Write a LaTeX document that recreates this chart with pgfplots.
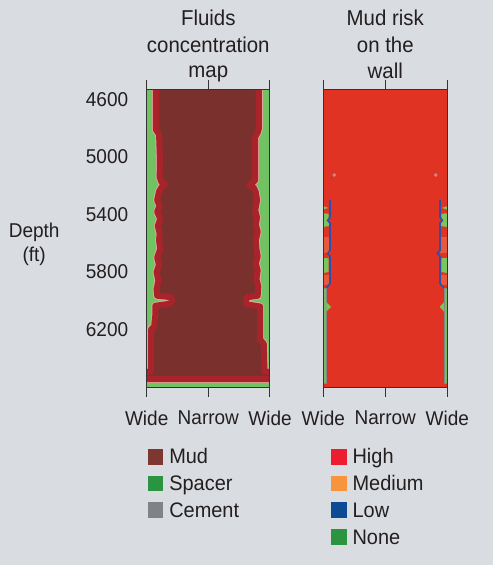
\documentclass[border=0pt]{standalone}
\usepackage{fontspec}
\setmainfont{Liberation Sans}[FakeStretch=0.95]
\usepackage{pgfplots}
\pgfplotsset{compat=1.18}

\definecolor{bgc}{HTML}{D9DCE1}
\definecolor{txt}{HTML}{231F20}
\definecolor{axcol}{HTML}{333333}
\definecolor{mud}{HTML}{7A312D}
\definecolor{mudedge}{HTML}{A9242A}
\definecolor{halo}{HTML}{DDA898}
\definecolor{mapgreen}{HTML}{70C262}
\definecolor{riskred}{HTML}{E13324}
\definecolor{riskorange}{HTML}{E8583A}
\definecolor{riskblue}{HTML}{2A4FB0}
\definecolor{riskgreen}{HTML}{7CC45C}
\definecolor{stripgray}{HTML}{7D8A86}
\definecolor{dotc}{HTML}{C98A82}
\definecolor{lgmud}{HTML}{7E3630}
\definecolor{lgspacer}{HTML}{2A9440}
\definecolor{lgcement}{HTML}{7F8386}
\definecolor{lghigh}{HTML}{ED1C2E}
\definecolor{lgmed}{HTML}{F7943C}
\definecolor{lglow}{HTML}{0D4A94}
\definecolor{lgnone}{HTML}{2A9440}

\pgfplotsset{
  panel/.style={
    scale only axis, height=297.5pt,
    xmin=-1, xmax=1, ymin=4530, ymax=6600, y dir=reverse,
    axis line style={axcol, line width=1pt},
    xtick={-1,0,1}, xticklabels={Wide,Narrow,Wide},
    tick align=outside, major tick length=10pt,
    xtick style={axcol, line width=1pt}, ytick style={draw=none},
    tick label style={font=\fontsize{20}{24}\selectfont, text=txt},
    xticklabel style={yshift=-10pt},
    axis on top, no markers,
    legend cell align=left,
    legend image code/.code={\path[##1] (0pt,-7.8pt) rectangle (15.6pt,7.8pt);},
    legend style={draw=none, fill=none, inner sep=0pt, outer sep=0pt,
      row sep=11.1pt, column sep=6pt, text=txt,
      font=\fontsize{21}{25}\selectfont,
      nodes={inner sep=0pt, text height=14.3pt, text depth=0pt}},
  },
}

\begin{document}
\begin{tikzpicture}
\useasboundingbox[fill=bgc] (0,0) rectangle (493pt,565pt);

% titles
\begin{scope}[every node/.style={anchor=base, text=txt, font=\fontsize{21.5}{26}\selectfont}]
\node at (208.3pt,539pt) {Fluids};
\node at (208.3pt,512.7pt) {concentration};
\node at (208.3pt,487.3pt) {map};
\node at (385.3pt,539pt) {Mud risk};
\node at (385.3pt,512.7pt) {on the};
\node at (385.3pt,486.3pt) {wall};
\node[font=\fontsize{20}{24}\selectfont] at (34.2pt,327.7pt) {Depth};
\node[font=\fontsize{20}{24}\selectfont] at (34.2pt,303.3pt) {(ft)};
\end{scope}

% fluids concentration map
\begin{axis}[panel, at={(146.7pt,178pt)}, anchor=south west, width=123.3pt,
  ytick={4600,5000,5400,5800,6200},
  yticklabels={4600,5000,5400,5800,6200},
  yticklabel style={xshift=-5pt},
  legend style={at={(0.008,-0.2084)}, anchor=north west}]
\addplot[forget plot, fill=mapgreen, draw=none] coordinates {(-1.1,4400)(1.1,4400)(1.1,6700)(-1.1,6700)};
\pgfplotstableread{
x d
-0.85 4450
-0.85 4812
-0.80 4840
-0.785 5020
-0.79 5140
-0.76 5175
-0.70 5192
-0.76 5210
-0.80 5240
-0.83 5300
-0.79 5340
-0.83 5380
-0.78 5430
-0.82 5480
-0.79 5530
-0.80 5580
-0.78 5640
-0.83 5700
-0.80 5750
-0.84 5800
-0.81 5860
-0.84 5920
-0.83 5965
-0.60 5975
-0.59 6000
-0.62 6020
-0.86 6035
-0.86 6100
-0.88 6180
-0.93 6200
-0.93 6490
-1.05 6500
-1.05 6545
1.05 6545
1.05 6500
0.91 6490
0.90 6300
0.84 6270
0.84 6040
0.62 6025
0.61 6000
0.63 5975
0.80 5965
0.81 5900
0.78 5850
0.80 5790
0.77 5740
0.80 5690
0.78 5640
0.77 5580
0.80 5520
0.77 5470
0.79 5420
0.76 5370
0.79 5300
0.77 5245
0.74 5215
0.66 5195
0.72 5178
0.76 5160
0.76 4860
0.80 4830
0.82 4800
0.82 4450
-0.85 4450
}\mudzone
\addplot[forget plot, draw=halo, line width=8pt, line join=round] table[x=x, y=d] {\mudzone};
\addplot[forget plot, fill=mud, draw=mudedge, line width=6pt, line join=round] table[x=x, y=d] {\mudzone};
\addlegendimage{fill=lgmud, draw=none}
\addlegendentry{Mud}
\addlegendimage{fill=lgspacer, draw=none}
\addlegendentry{Spacer}
\addlegendimage{fill=lgcement, draw=none}
\addlegendentry{Cement}
\end{axis}

% mud risk on the wall
\begin{axis}[panel, at={(323.3pt,178pt)}, anchor=south west, width=124pt,
  ytick=\empty,
  legend style={at={(0.062,-0.2084)}, anchor=north west}]
\addplot[forget plot, fill=riskred, draw=none] coordinates {(-1.1,4400)(1.1,4400)(1.1,6700)(-1.1,6700)};
% left wall
\addplot[forget plot, fill=riskorange, draw=none] coordinates {(-1.05,5557)(-0.90,5557)(-0.90,5667)(-1.05,5667)};
\addplot[forget plot, fill=riskorange, draw=none] coordinates {(-1.05,5820)(-0.90,5820)(-0.90,5890)(-1.05,5890)};
\addplot[forget plot, fill=riskgreen, draw=none] coordinates {(-1.05,5335)(-0.92,5354)(-1.05,5372)};
\addplot[forget plot, fill=riskgreen, draw=none] coordinates {(-1.05,5389)(-0.915,5395)(-0.91,5480)(-1.05,5490)};
\addplot[forget plot, fill=riskgreen, draw=none] coordinates {(-1.05,5700)(-0.915,5705)(-0.915,5800)(-1.05,5810)};
\addplot[forget plot, riskblue, line width=1.6pt] coordinates {(-0.892,5300)(-0.892,5420)(-0.93,5440)(-0.892,5460)(-0.892,5650)(-0.93,5670)(-0.892,5690)(-0.892,5880)(-0.95,5911)};
\addplot[forget plot, fill=riskgreen!80!stripgray, draw=stripgray, line width=0.8pt] coordinates {(-1.05,5911)(-0.95,5911)(-0.95,6573)(-1.05,6573)};
\addplot[forget plot, fill=riskgreen, draw=none] coordinates {(-0.95,6010)(-0.876,6043)(-0.95,6075)};
% right wall
\addplot[forget plot, fill=riskorange, draw=none] coordinates {(1.05,5557)(0.89,5557)(0.89,5667)(1.05,5667)};
\addplot[forget plot, fill=riskorange, draw=none] coordinates {(1.05,5820)(0.89,5820)(0.89,5890)(1.05,5890)};
\addplot[forget plot, fill=riskgreen, draw=none] coordinates {(1.05,5335)(0.91,5354)(1.05,5372)};
\addplot[forget plot, fill=riskgreen, draw=none] coordinates {(1.05,5389)(0.905,5395)(0.90,5480)(1.05,5490)};
\addplot[forget plot, fill=riskgreen, draw=none] coordinates {(1.05,5700)(0.905,5705)(0.905,5800)(1.05,5810)};
\addplot[forget plot, riskblue, line width=1.6pt] coordinates {(0.882,5300)(0.882,5420)(0.92,5440)(0.882,5460)(0.882,5650)(0.84,5670)(0.882,5690)(0.882,5880)(0.947,5911)};
\addplot[forget plot, fill=riskgreen!80!stripgray, draw=stripgray, line width=0.8pt] coordinates {(1.05,5911)(0.947,5911)(0.947,6573)(1.05,6573)};
\addplot[forget plot, fill=riskgreen, draw=none] coordinates {(0.947,6010)(0.876,6043)(0.947,6075)};
\addplot[forget plot, only marks, mark=*, mark size=1.6pt, color=dotc] coordinates {(-0.823,5125)(0.813,5125)};
\addlegendimage{fill=lghigh, draw=none}
\addlegendentry{High}
\addlegendimage{fill=lgmed, draw=none}
\addlegendentry{Medium}
\addlegendimage{fill=lglow, draw=none}
\addlegendentry{Low}
\addlegendimage{fill=lgnone, draw=none}
\addlegendentry{None}
\end{axis}
\end{tikzpicture}
\end{document}
